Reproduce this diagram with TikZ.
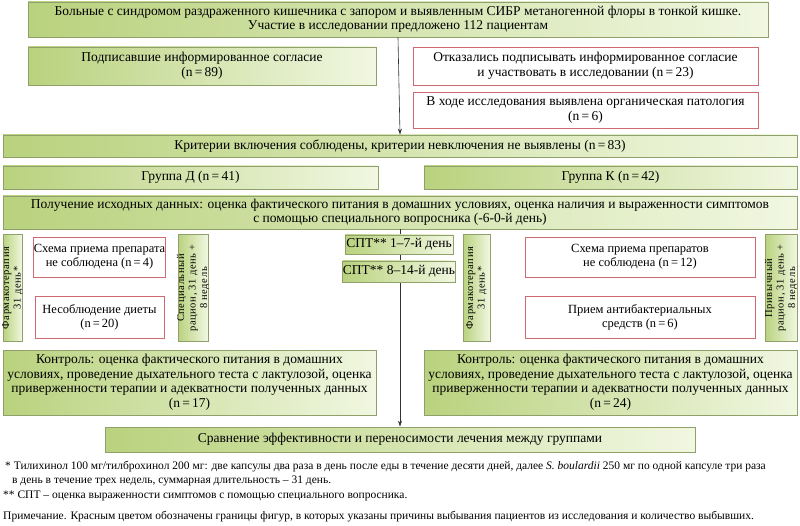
\documentclass[tikz,border=0pt]{standalone}
\usepackage{fontspec}
\usetikzlibrary{arrows.meta}
\setmainfont{Liberation Serif}
\definecolor{gL}{HTML}{B9D27E}
\definecolor{gR}{HTML}{F1F7E1}
\definecolor{gB}{HTML}{8FA06A}
\definecolor{rB}{HTML}{D06A72}
\tikzset{
 gbox/.style={draw=gB,line width=0.8pt,left color=gL,right color=gR,align=center,inner sep=0pt,font=\fontsize{13.5}{14.5}\selectfont},
 rbox/.style={draw=rB,line width=0.7pt,fill=white,align=center,inner sep=0pt,font=\fontsize{13.5}{14.5}\selectfont},
 sbox/.style={rbox,font=\fontsize{12.5}{14}\selectfont},
 vbox/.style={draw=gB,line width=0.8pt,top color=gL,bottom color=gR,shading angle=90,inner sep=0pt},
 vtext/.style={rotate=90,align=center,font=\fontsize{10.5}{11.5}\selectfont\addfontfeatures{LetterSpace=6}},
 arr/.style={-{Stealth[length=6pt,width=4pt]},line width=0.6pt,draw=black!80},
}
\newcommand{\bx}[7]{\node[#2,minimum width={(#5)-(#3)},minimum height={(#6)-(#4)}] (#1) at ({((#3)+(#5))/2},{((#4)+(#6))/2}) {#7};}
\begin{document}
\begin{tikzpicture}[x=1pt,y=-1pt]
\useasboundingbox (0,0) rectangle (800,526);
\bx{top}{gbox}{28}{2}{768}{37}{Больные с синдромом раздраженного кишечника с запором и выявленным СИБР метаногенной флоры в тонкой кишке.\\Участие в исследовании предложено 112 пациентам}
\bx{crit}{gbox}{3}{135}{797}{157}{Критерии включения соблюдены, критерии невключения не выявлены (n\,=\,83)}
\draw[arr] (top.south) -- (crit.north);
\bx{sign}{gbox}{28}{47}{376}{85}{Подписавшие информированное согласие\\(n\,=\,89)}
\bx{ref}{rbox}{413}{47}{758}{85}{Отказались подписывать информированное согласие\\и участвовать в исследовании (n\,=\,23)}
\bx{org}{rbox}{413}{92}{758}{128}{В ходе исследования выявлена органическая патология\\(n\,=\,6)}
\bx{gd}{gbox}{3}{166}{378}{189}{Группа Д (n\,=\,41)}
\bx{gk}{gbox}{424}{166}{797}{189}{Группа К (n\,=\,42)}
\bx{base}{gbox}{3}{196}{797}{229}{Получение исходных данных: оценка фактического питания в домашних условиях, оценка наличия и выраженности симптомов\\с помощью специального вопросника (-6-0-й день)}
\bx{cmp}{gbox}{105}{427}{695}{452}{Сравнение эффективности и переносимости лечения между группами}
\draw[arr] (base.south) -- (cmp.north);
\bx{spt1}{gbox}{345}{235}{453}{254}{СПТ** 1–7-й день}
\bx{spt2}{gbox}{345}{261}{453}{282}{СПТ** 8–14-й день}
% left side
\node[vbox,minimum width=19,minimum height=107] (fl) at (12.5,288) {};
\node[vtext] at (fl.center) {Фармакотерапия\\31 день*};
\bx{l1}{sbox}{35}{237}{164}{277}{Схема приема препарата\\не соблюдена (n\,=\,4)}
\bx{l2}{sbox}{35}{296}{164}{338}{Несоблюдение диеты\\(n\,=\,20)}
\node[vbox,minimum width=30,minimum height=107] (sl) at (193,288) {};
\node[vtext] at (sl.center) {Специальный\\рацион, 31 день +\\8 недель};
% right side
\node[vbox,minimum width=27,minimum height=107] (fr) at (476.5,288) {};
\node[vtext] at (fr.center) {Фармакотерапия\\31 день*};
\bx{r1}{sbox}{525}{237}{755}{277}{Схема приема препаратов\\не соблюдена (n\,=\,12)}
\bx{r2}{sbox}{525}{296}{755}{338}{Прием антибактериальных\\средств (n\,=\,6)}
\node[vbox,minimum width=32,minimum height=107] (pr) at (781,288) {};
\node[vtext] at (pr.center) {Привычный\\рацион, 31 день +\\8 недель};
\bx{cl}{gbox}{3}{350}{376}{415}{Контроль: оценка фактического питания в домашних\\условиях, проведение дыхательного теста с лактулозой, оценка\\приверженности терапии и адекватности полученных данных\\(n\,=\,17)}
\bx{cr}{gbox}{424}{350}{797}{415}{Контроль: оценка фактического питания в домашних\\условиях, проведение дыхательного теста с лактулозой, оценка\\приверженности терапии и адекватности полученных данных\\(n\,=\,24)}
\node[anchor=north west,align=left,font=\fontsize{11.5}{14.5}\selectfont,inner sep=0pt] (fn1) at (5,461) {* Тилихинол 100 мг/тилброхинол 200 мг: две капсулы два раза в день после еды в течение десяти дней, далее \textit{S.~boulardii} 250 мг по одной капсуле три раза\\\hspace*{7pt}в день в течение трех недель, суммарная длительность – 31 день.};
\node[anchor=north west,font=\fontsize{11.5}{12}\selectfont,inner sep=0pt] (fn2) at (3,491) {** СПТ – оценка выраженности симптомов с помощью специального вопросника.};
\node[anchor=north west,font=\fontsize{11.5}{12}\selectfont,inner sep=0pt] (fn3) at (3,511) {Примечание. Красным цветом обозначены границы фигур, в которых указаны причины выбывания пациентов из исследования и количество выбывших.};
\end{tikzpicture}
\end{document}
